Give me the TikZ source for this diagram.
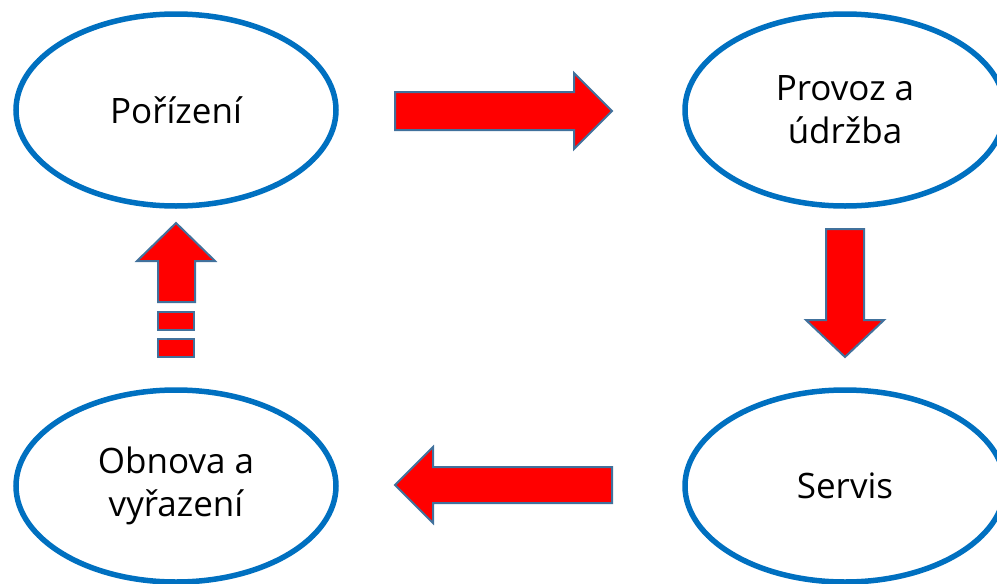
\documentclass[tikz,border=0pt]{standalone}
\usepackage{fontspec}
\setmainfont{Open Sans}
\usetikzlibrary{shapes.geometric}
\definecolor{ringblue}{HTML}{0070C0}
\definecolor{arrowedge}{HTML}{41719C}
\begin{document}
\begin{tikzpicture}[x=1pt,y=-1pt,
  stage/.style={ellipse, draw=ringblue, line width=5.5pt, fill=white,
    minimum width=320pt, minimum height=192pt, align=center,
    font=\fontsize{35}{43}\selectfont, inner sep=0pt},
  blockarrow/.style={fill=red, draw=arrowedge, line width=2pt, line join=miter}]
\useasboundingbox (0,0) rectangle (997,584);
\begin{scope}
\clip (0,0) rectangle (997,584);
\node[stage] (acq) at (176,110) {Pořízení};
\node[stage] (ops) at (845,110) {Provoz a\\údržba};
\node[stage] (srv) at (845,486) {Servis};
\node[stage] (ren) at (176,486) {Obnova a\\vyřazení};
% right arrow
\draw[blockarrow] (395,92) -- (574,92) -- (574,73) -- (612,111) -- (574,149) -- (574,130) -- (395,130) -- cycle;
% down arrow
\draw[blockarrow] (826,229) -- (864,229) -- (864,320) -- (884,320) -- (845,357) -- (806,320) -- (826,320) -- cycle;
% left arrow
\draw[blockarrow] (612,467) -- (433,467) -- (433,447) -- (395,485) -- (433,523) -- (433,503) -- (612,503) -- cycle;
% up arrow with striped tail
\draw[blockarrow] (158,302) -- (158,261) -- (137,261) -- (176,223) -- (215,261) -- (195,261) -- (195,302) -- cycle;
\draw[blockarrow] (158,312) rectangle (194,330);
\draw[blockarrow] (158,339) rectangle (194,357);
\end{scope}
\end{tikzpicture}
\end{document}
